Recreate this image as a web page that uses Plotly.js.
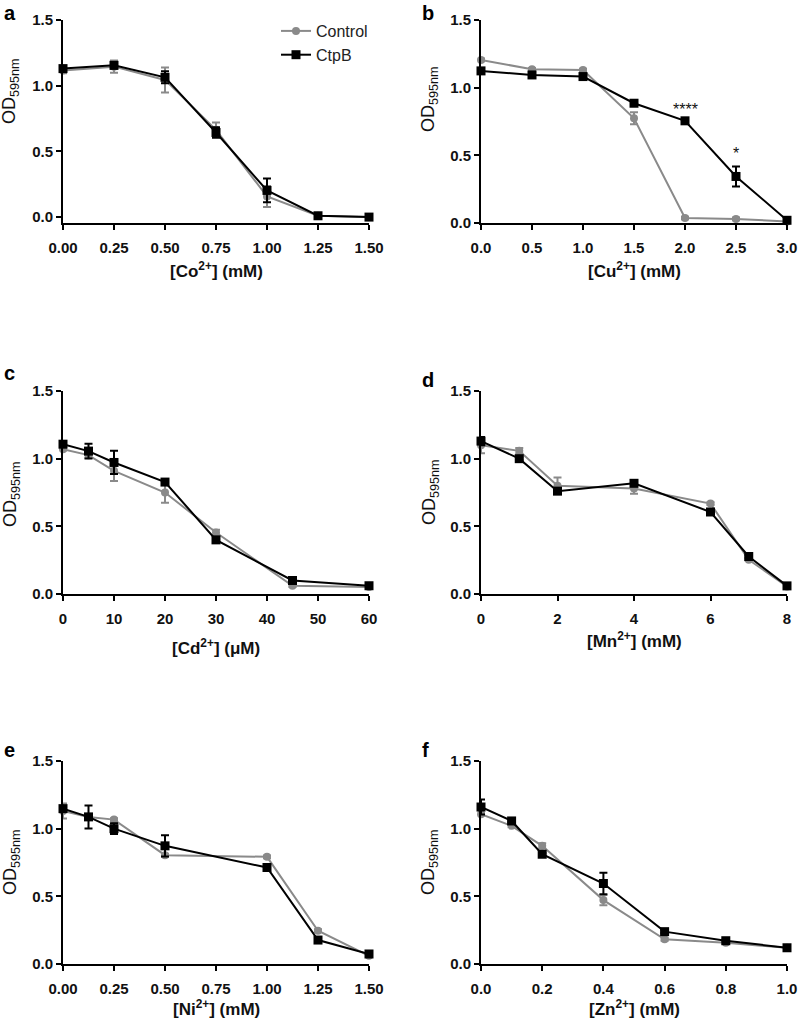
<!DOCTYPE html>
<html>
<head>
<meta charset="utf-8">
<script src="https://cdn.plot.ly/plotly-3.0.1.min.js"></script>
<style>html,body{margin:0;padding:0;background:#fff;}#chart{width:799px;height:1020px;}</style>
</head>
<body>
<div id="chart"></div>
<script>
// ---------- data ----------
const seriesNames = ['Control', 'CtpB'];

const a_x = [0, 0.25, 0.5, 0.75, 1.0, 1.25, 1.5];
const a_ctrl = [1.115, 1.145, 1.044, 0.664, 0.157, 0.010, 0.0];
const a_ctrl_err = [0.02, 0.047, 0.095, 0.055, 0.08, 0.01, 0.005];
const a_ctpb = [1.13, 1.155, 1.064, 0.644, 0.203, 0.010, 0.0];
const a_ctpb_err = [0.02, 0.025, 0.045, 0.04, 0.09, 0.01, 0.005];

const b_x = [0, 0.5, 1.0, 1.5, 2.0, 2.5, 3.0];
const b_ctrl = [1.205, 1.136, 1.13, 0.774, 0.037, 0.030, 0.012];
const b_ctrl_err = [0.01, 0.01, 0.01, 0.045, 0.01, 0.01, 0.005];
const b_ctpb = [1.124, 1.094, 1.082, 0.885, 0.755, 0.344, 0.020];
const b_ctpb_err = [0.01, 0.01, 0.01, 0.015, 0.01, 0.074, 0.005];
const b_sig_x = [2.0, 2.5];
const b_sig_y = [0.84, 0.51];
const b_sig_text = ['****', '*'];

const c_x = [0, 5, 10, 20, 30, 45, 60];
const c_ctrl = [1.07, 1.026, 0.91, 0.75, 0.454, 0.061, 0.052];
const c_ctrl_err = [0.01, 0.02, 0.075, 0.075, 0.02, 0.01, 0.005];
const c_ctpb = [1.107, 1.056, 0.972, 0.827, 0.40, 0.10, 0.061];
const c_ctpb_err = [0.01, 0.055, 0.086, 0.01, 0.01, 0.02, 0.005];

const d_x = [0, 1, 2, 4, 6, 7, 8];
const d_ctrl = [1.10, 1.058, 0.80, 0.78, 0.668, 0.253, 0.056];
const d_ctrl_err = [0.06, 0.02, 0.06, 0.04, 0.01, 0.01, 0.005];
const d_ctpb = [1.13, 1.00, 0.76, 0.818, 0.606, 0.277, 0.06];
const d_ctpb_err = [0.03, 0.01, 0.02, 0.01, 0.01, 0.01, 0.005];

const e_x = [0, 0.125, 0.25, 0.5, 1.0, 1.25, 1.5];
const e_ctrl = [1.131, 1.087, 1.067, 0.804, 0.792, 0.246, 0.061];
const e_ctrl_err = [0.055, 0.02, 0.01, 0.01, 0.01, 0.01, 0.005];
const e_ctpb = [1.148, 1.087, 1.0, 0.873, 0.713, 0.177, 0.074];
const e_ctpb_err = [0.02, 0.085, 0.04, 0.078, 0.01, 0.01, 0.005];

const f_x = [0, 0.1, 0.2, 0.4, 0.6, 0.8, 1.0];
const f_ctrl = [1.107, 1.021, 0.873, 0.472, 0.182, 0.157, 0.12];
const f_ctrl_err = [0.01, 0.01, 0.02, 0.037, 0.01, 0.01, 0.005];
const f_ctpb = [1.16, 1.057, 0.811, 0.595, 0.239, 0.172, 0.12];
const f_ctpb_err = [0.055, 0.01, 0.01, 0.08, 0.01, 0.01, 0.005];

const panelLetters = ['a', 'b', 'c', 'd', 'e', 'f'];
const xTitles = ['[Co<sup>2+</sup>] (mM)', '[Cu<sup>2+</sup>] (mM)', '[Cd<sup>2+</sup>] (μM)',
                 '[Mn<sup>2+</sup>] (mM)', '[Ni<sup>2+</sup>] (mM)', '[Zn<sup>2+</sup>] (mM)'];
const xTickVals = [
  [0, 0.25, 0.5, 0.75, 1.0, 1.25, 1.5],
  [0, 0.5, 1.0, 1.5, 2.0, 2.5, 3.0],
  [0, 10, 20, 30, 40, 50, 60],
  [0, 2, 4, 6, 8],
  [0, 0.25, 0.5, 0.75, 1.0, 1.25, 1.5],
  [0, 0.2, 0.4, 0.6, 0.8, 1.0]
];
const xTickFormats = ['.2f', '.1f', 'd', 'd', '.2f', '.1f'];
const yTickVals = [0, 0.5, 1.0, 1.5];
const yTitle = 'OD<sub>595nm</sub>';

// ---------- layout geometry (px) ----------
const W = 799, H = 1020;
const FONT = 'Liberation Sans, Arial, Helvetica, sans-serif';
const GREY = '#8a8a8a';
const colX = [[63, 369], [481, 787]];
const rowY = [[20, 223], [391, 594], [761, 964]];
const yRanges = [[-0.045, 1.5], [0, 1.5], [0, 1.5], [0, 1.5], [0, 1.5], [0, 1.5]];
const letterPos = [[10, 13], [428, 13], [9, 373], [428, 380], [9, 750], [425, 750]];
const yTitlePos = [[10, 91], [430, 99], [11, 494], [430, 492], [11, 862], [429, 862]];
const xTitleY = [270, 270, 647, 640, 1008, 1008];

const px = v => v / W;
const py = v => 1 - v / H;

const panels = [
  [a_x, a_ctrl, a_ctrl_err, a_ctpb, a_ctpb_err],
  [b_x, b_ctrl, b_ctrl_err, b_ctpb, b_ctpb_err],
  [c_x, c_ctrl, c_ctrl_err, c_ctpb, c_ctpb_err],
  [d_x, d_ctrl, d_ctrl_err, d_ctpb, d_ctpb_err],
  [e_x, e_ctrl, e_ctrl_err, e_ctpb, e_ctpb_err],
  [f_x, f_ctrl, f_ctrl_err, f_ctpb, f_ctpb_err]
];

const traces = [];
const layout = {
  width: W, height: H,
  margin: {l: 0, r: 0, t: 0, b: 0},
  paper_bgcolor: '#fff', plot_bgcolor: '#fff',
  font: {family: FONT, color: '#000'},
  showlegend: true,
  legend: {
    x: px(276), y: py(14), xanchor: 'left', yanchor: 'top',
    font: {family: FONT, size: 16, color: '#222'},
    bgcolor: 'rgba(0,0,0,0)', borderwidth: 0, tracegroupgap: 0,
    itemwidth: 30
  },
  annotations: []
};

panels.forEach((p, i) => {
  const [xs, ctrl, ctrlErr, ctpb, ctpbErr] = p;
  const n = i + 1;
  const xa = n === 1 ? 'x' : 'x' + n;
  const ya = n === 1 ? 'y' : 'y' + n;
  const col = colX[i % 2], row = rowY[Math.floor(i / 2)];
  const maxX = xTickVals[i][xTickVals[i].length - 1];

  traces.push({
    x: xs, y: ctrl, xaxis: xa, yaxis: ya, name: seriesNames[0],
    type: 'scatter', mode: 'lines+markers', showlegend: i === 0, legendgroup: 'ctrl',
    line: {color: GREY, width: 2},
    marker: {symbol: 'circle', size: 8, color: GREY},
    error_y: {type: 'data', array: ctrlErr, visible: true, color: GREY, thickness: 2, width: 4},
    cliponaxis: false
  });
  traces.push({
    x: xs, y: ctpb, xaxis: xa, yaxis: ya, name: seriesNames[1],
    type: 'scatter', mode: 'lines+markers', showlegend: i === 0, legendgroup: 'ctpb',
    line: {color: '#000', width: 2},
    marker: {symbol: 'square', size: 9, color: '#000'},
    error_y: {type: 'data', array: ctpbErr, visible: true, color: '#000', thickness: 2, width: 4},
    cliponaxis: false
  });

  const axX = n === 1 ? 'xaxis' : 'xaxis' + n;
  const axY = n === 1 ? 'yaxis' : 'yaxis' + n;
  layout[axX] = {
    domain: [px(col[0]), px(col[1])], anchor: ya,
    range: [0, maxX], tickvals: xTickVals[i], tickformat: xTickFormats[i],
    showline: true, linewidth: 2, linecolor: '#000',
    ticks: 'outside', ticklen: 5, tickwidth: 2, tickcolor: '#000',
    ticklabelstandoff: 5,
    showgrid: false, zeroline: false, fixedrange: true,
    tickfont: {family: FONT, size: 15, color: '#111', weight: 'bold'}
  };
  layout[axY] = {
    domain: [py(row[1]), py(row[0])], anchor: xa,
    range: yRanges[i], tickvals: yTickVals, tickformat: '.1f',
    showline: true, linewidth: 2, linecolor: '#000',
    ticks: 'outside', ticklen: 5, tickwidth: 2, tickcolor: '#000',
    showgrid: false, zeroline: false, fixedrange: true,
    tickfont: {family: FONT, size: 15, color: '#111', weight: 'bold'}
  };

  layout.annotations.push({
    xref: 'paper', yref: 'paper', x: px(letterPos[i][0]), y: py(letterPos[i][1]),
    xanchor: 'center', yanchor: 'middle', showarrow: false,
    text: panelLetters[i], font: {family: FONT, size: 20, color: '#000', weight: 'bold'}
  });
  layout.annotations.push({
    xref: 'paper', yref: 'paper', x: px(yTitlePos[i][0]), y: py(yTitlePos[i][1]),
    xanchor: 'center', yanchor: 'middle', showarrow: false, textangle: -90,
    text: yTitle, font: {family: FONT, size: 18, color: '#111'}
  });
  layout.annotations.push({
    xref: 'paper', yref: 'paper', x: px((col[0] + col[1]) / 2), y: py(xTitleY[i]),
    xanchor: 'center', yanchor: 'middle', showarrow: false,
    text: xTitles[i], font: {family: FONT, size: 17, color: '#111', weight: 'bold'}
  });
});

b_sig_x.forEach((x, k) => {
  layout.annotations.push({
    xref: 'x2', yref: 'y2', x: x, y: b_sig_y[k], xanchor: 'center', yanchor: 'middle',
    showarrow: false, text: b_sig_text[k], font: {family: FONT, size: 16, color: '#111'}
  });
});

Plotly.newPlot('chart', traces, layout, {staticPlot: true, displayModeBar: false});
</script>
</body>
</html>
